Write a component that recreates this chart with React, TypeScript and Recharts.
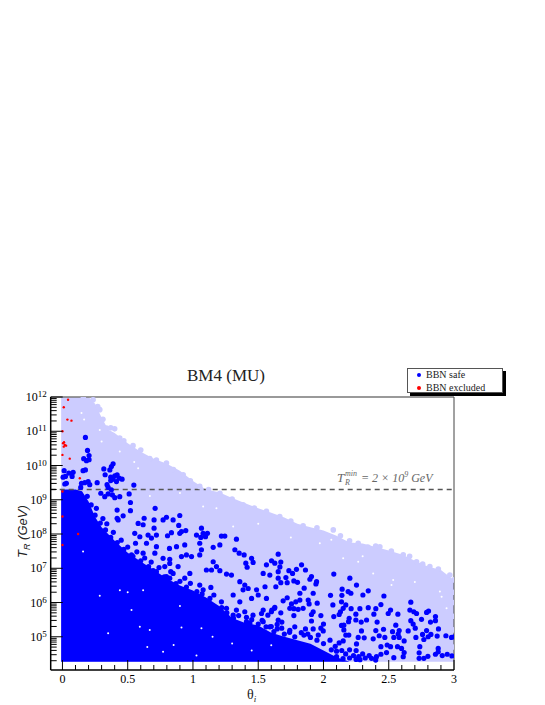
import { ComposedChart, Area, Scatter, XAxis, YAxis, ReferenceLine } from 'recharts'

// log10(T_R) is plotted, decade labels are drawn as 10^n
const envelopeTheta = [-0.01, 0.05, 0.1, 0.15, 0.2, 0.25, 0.3, 0.35, 0.4, 0.5, 0.6, 0.7, 0.8, 0.9, 1, 1.1, 1.2, 1.3, 1.4, 1.5, 1.6, 1.7, 1.8, 1.9, 2, 2.1, 2.2, 2.3, 2.4, 2.5, 2.6, 2.7, 2.8, 2.9, 3]
const lightTop = [12, 12, 12, 12, 12, 11.8, 11.4, 11.05, 10.95, 10.65, 10.4, 10.2, 10.05, 9.85, 9.55, 9.3, 9.22, 9.05, 8.9, 8.75, 8.62, 8.48, 8.3, 8.2, 8.1, 7.95, 7.75, 7.72, 7.62, 7.52, 7.4, 7.22, 7.05, 6.95, 6.65]
const darkTop = [9.3, 9.3, 9.3, 9.25, 8.95, 8.5, 8.2, 8.0, 7.8, 7.45, 7.2, 6.95, 6.7, 6.5, 6.35, 6.15, 5.9, 5.55, 5.4, 5.33, 5.12, 5.0, 4.9, 4.8, 4.6, 4.4, 4.27, 4.27, 4.27, 4.27, 4.27, 4.27, 4.27, 4.27, 4.27]
const floorLogT = 4.27

const lightEdge: number[][] = [
  [0.16, 12], [0.235, 11.92], [0.27, 11.72], [0.286, 11.63], [0.31, 11.35], [0.337, 11.09], [0.37, 11.1], [0.4, 11.07], [0.439, 10.8], [0.47, 10.72], [0.541, 10.58], [0.6, 10.45], [0.669, 10.2], [0.72, 10.16], [0.797, 10.07], [0.85, 9.88], [0.925, 9.73], [0.98, 9.55], [1.052, 9.39], [1.12, 9.3], [1.206, 9.19], [1.3, 9.02], [1.384, 8.85], [1.47, 8.76], [1.563, 8.66], [1.665, 8.51], [1.75, 8.38], [1.844, 8.24], [1.95, 8.18], [2.075, 8.12], [2.13, 7.95], [2.2, 7.8], [2.266, 7.73], [2.34, 7.62], [2.4, 7.65], [2.432, 7.63], [2.52, 7.5], [2.611, 7.39], [2.66, 7.35], [2.713, 7.19], [2.76, 7.12], [2.815, 7.05], [2.88, 6.98], [2.968, 6.8], [3, 6.66],
  [3, 6.3], [3, 6.0], [3, 5.6], [3, 5.2], [3, 4.7],
]

// background showing through the clouds
const gapPoints: number[][] = [
  [0.286, 11.04], [0.166, 11.34], [0.146, 11.53], [0.58, 9.92], [0.439, 10.41], [0.67, 9.11], [1.078, 8.8], [1.18, 8.75], [1.308, 8.22], [1.972, 7.73], [2.06, 7.83], [2.151, 7.29], [2.266, 7.19], [2.381, 6.85], [2.534, 6.66], [2.521, 6.51], [2.892, 6.32], [2.943, 5.83], [2.905, 6.17], [2.7, 6.6], [2.3, 7.35], [1.75, 7.9], [1.5, 8.3], [0.9, 9.2], [0.55, 10.1], [0.3, 10.7],
  [0.44, 6.36], [0.5, 6.3], [0.286, 6.2], [0.529, 5.78], [0.593, 5.29], [0.669, 5.2], [0.912, 5.27], [1.065, 5.25], [0.852, 4.76], [0.771, 4.56], [1.027, 4.45], [0.618, 6.36], [0.158, 7.49], [0.9, 5.9], [1.15, 5.0], [1.3, 4.8], [0.35, 5.1], [0.65, 4.7], [1.45, 4.6], [1.6, 4.75],
]

const safePoints: number[][] = [
  // upper cloud
  [0.176, 10.82], [0.192, 10.44], [0.204, 10.29], [0.163, 10.2], [0.184, 10.14], [0.204, 10.17], [0.388, 10.05], [0.375, 9.97], [0.317, 9.9], [0.363, 9.87], [0.158, 9.85], [0.176, 9.87], [0.013, 9.85], [0.049, 9.78], [0.082, 9.8], [0.005, 9.66], [0.023, 9.68], [0.074, 9.68], [0.018, 9.46], [0.03, 9.48],
  [0.327, 9.73], [0.37, 9.66], [0.401, 9.7], [0.419, 9.73], [0.434, 9.63], [0.457, 9.6], [0.388, 9.6], [0.414, 9.53], [0.37, 9.56], [0.266, 9.5], [0.197, 9.53], [0.171, 9.5], [0.146, 9.48], [0.209, 9.44], [0.342, 9.44], [0.35, 9.36], [0.375, 9.29], [0.547, 9.43], [0.511, 9.17], [0.294, 9.19], [0.35, 9.17], [0.324, 9.09], [0.383, 9.14], [0.401, 9.06], [0.439, 9.09], [0.521, 8.92], [0.521, 8.68], [0.419, 8.7], [0.419, 8.46], [0.465, 8.53], [0.427, 8.41], [0.71, 8.75], [0.626, 8.46], [0.58, 8.31], [0.618, 8.27], [0.702, 8.41], [0.702, 8.17], [0.771, 8.41], [0.797, 8.49], [0.848, 8.41], [0.899, 8.54], [0.891, 8.25], [0.912, 8.07], [0.945, 8.1], [0.835, 8.04], [0.805, 7.95], [0.554, 8.02], [0.593, 7.92], [0.656, 7.97], [0.72, 7.97], [1.065, 8.17], [1.078, 8.02], [1.111, 8.02], [1.027, 7.97], [1.06, 7.9], [1.096, 7.92], [1.218, 7.94], [1.244, 7.94], [1.333, 7.85],
  // middle cloud, left half
  [0.822, 7.26], [0.822, 7.14], [0.874, 7.63], [0.82, 7.58], [0.937, 7.68], [0.912, 7.34], [0.95, 7.39], [0.989, 7.34], [1.052, 7.73], [1.065, 7.54], [1.052, 7.39], [1.155, 7.61], [1.206, 7.68], [1.321, 7.54], [1.354, 7.44], [1.392, 7.39], [1.449, 7.29], [1.461, 7.17], [1.405, 7.15], [1.415, 7.03], [1.563, 7.1], [1.627, 7.15], [1.155, 7.19], [1.18, 7.05], [1.206, 6.93], [1.142, 6.95], [1.103, 6.95], [0.976, 6.85], [0.937, 6.71], [0.886, 7.05], [0.848, 6.85], [0.822, 6.71], [0.771, 6.61], [1.257, 6.83], [1.295, 6.8], [1.359, 6.61], [1.397, 6.51], [1.384, 6.37], [1.423, 6.41], [1.487, 6.37], [1.5, 6.22], [1.552, 6.46], [1.563, 6.12], [1.635, 6.46], [1.653, 6.71], [1.538, 6.85], [1.589, 6.8], [1.653, 6.9], [1.052, 6.51], [1.078, 6.37], [1.137, 6.44], [1.218, 6.02], [1.308, 6.22], [1.359, 6.02], [1.449, 6.12], [1.257, 5.83], [1.333, 5.78], [1.397, 5.73], [1.538, 5.78], [1.525, 5.68], [1.625, 5.83], [1.601, 5.73], [1.574, 5.63], [1.46, 5.63], [1.41, 5.57], [1.308, 5.63], [1.653, 5.49], [1.538, 5.44], [1.436, 5.39], [1.589, 5.29], [0.899, 8.02], [0.72, 7.63], [0.682, 7.88], [0.618, 7.44], [0.529, 7.39], [0.644, 7.73], [0.708, 7.44], [0.771, 7.29], [0.56, 7.73], [0.784, 7.05], [0.695, 6.93], [0.797, 6.76],
  // middle cloud, right half
  [1.653, 7.41], [1.602, 7.22], [1.673, 7.18], [1.666, 7.04], [1.735, 6.93], [1.793, 6.97], [1.832, 7.1], [1.862, 6.95], [1.763, 6.85], [1.712, 6.73], [1.673, 6.58], [1.722, 6.58], [1.773, 6.63], [1.801, 6.59], [1.896, 6.68], [1.908, 6.76], [1.947, 6.61], [1.942, 6.54], [2.079, 6.83], [2.202, 6.71], [2.253, 6.51], [2.143, 6.39], [2.189, 6.32], [2.21, 6.27], [2.343, 6.34], [2.302, 6.22], [2.054, 6.21], [2.141, 6.21], [2.463, 6.19], [2.669, 6.01], [2.44, 5.94], [2.343, 5.85], [2.279, 5.82], [2.212, 5.82], [2.401, 5.82], [2.072, 5.93], [2.138, 6.02], [2.171, 5.93], [2.151, 5.83], [2.13, 5.73], [2.079, 5.59], [2.12, 5.65], [2.248, 5.66], [2.386, 5.66], [2.496, 5.68], [2.514, 5.78], [2.57, 5.66], [2.662, 5.78], [2.692, 5.73], [2.713, 5.68], [2.79, 5.71], [2.805, 5.75], [2.858, 5.59], [2.858, 5.47], [2.751, 5.51], [2.82, 5.43], [2.669, 5.47], [2.687, 5.37], [2.703, 5.25], [2.881, 5.23], [2.79, 5.18], [2.759, 5.07], [2.769, 4.92], [2.823, 5.07], [2.802, 5.0], [2.871, 5.02], [2.938, 5.03], [2.981, 4.98], [3, 5.0], [2.708, 4.98], [2.618, 4.88], [2.649, 5.17], [2.554, 5.34], [2.58, 5.18], [2.529, 5.15], [2.572, 5.08], [2.539, 4.98], [2.58, 4.98], [2.46, 5.22], [2.401, 5.18], [2.47, 4.98], [2.427, 5.03], [2.381, 4.94], [2.291, 5.17], [2.266, 4.98], [2.312, 4.97], [2.411, 5.43], [2.33, 5.49], [2.289, 5.43], [2.248, 5.49], [2.197, 5.54], [2.192, 5.44], [2.156, 5.34], [2.138, 5.33], [2.156, 5.2], [2.171, 5.05], [2.194, 5.05], [2.151, 4.88],
  [1.921, 6.27], [1.852, 6.42], [1.819, 6.27], [1.722, 6.14], [1.691, 6.05], [1.819, 6.07], [1.788, 6.02], [1.883, 6.07], [1.89, 5.96], [1.952, 5.98], [1.755, 5.96], [1.742, 5.83], [1.773, 5.82], [1.806, 5.8], [1.844, 5.83], [1.921, 5.73], [1.908, 5.65], [1.98, 5.62], [1.773, 5.62], [1.673, 5.7], [1.627, 5.86], [1.604, 5.78], [1.908, 5.46], [2.0, 5.37], [1.681, 5.43], [1.645, 5.36], [1.645, 5.23], [1.78, 5.29], [1.862, 5.23], [1.921, 5.23], [1.742, 5.19], [1.998, 5.17], [1.98, 5.25],
  // lower strip
  [2.253, 4.79], [2.44, 4.71], [2.488, 4.76], [2.514, 4.71], [2.567, 4.71], [2.598, 4.66], [2.738, 4.71], [2.618, 4.54], [2.733, 4.53], [2.879, 4.66], [2.879, 4.56], [2.483, 4.54], [2.44, 4.49], [2.539, 4.39], [2.611, 4.42], [2.733, 4.37], [2.769, 4.37], [2.8, 4.43], [2.858, 4.49], [2.91, 4.45], [2.948, 4.49], [2.984, 4.44], [2.406, 4.42], [2.368, 4.37], [2.4, 4.32],
  [2.05, 4.9], [2.09, 4.72], [2.12, 4.82], [2.06, 4.62], [2.1, 4.58], [2.14, 4.6], [2.17, 4.5], [2.2, 4.62], [2.23, 4.45], [2.25, 4.6], [2.27, 4.42], [2.3, 4.5], [2.32, 4.38], [2.28, 4.33], [2.2, 4.38], [2.15, 4.36], [2.1, 4.42], [2.25, 4.34], [2.35, 4.45], [1.9, 4.98], [1.95, 4.9], [2.0, 4.8], [1.85, 5.05], [1.7, 5.08], [1.78, 5.0], [1.62, 5.15],
  // edge of the dense block
  [0.14, 9.36], [0.19, 9.1], [0.22, 8.85], [0.25, 8.55], [0.29, 8.32], [0.33, 8.12], [0.37, 7.9], [0.42, 7.75], [0.47, 7.55], [0.54, 7.35], [0.6, 7.22], [0.66, 7.05], [0.72, 6.9], [0.78, 6.75], [0.87, 6.55], [0.95, 6.45], [1.03, 6.32], [1.13, 6.12], [1.22, 5.85], [1.31, 5.54], [1.41, 5.44], [1.5, 5.37], [1.56, 5.29],
  [0.26, 8.75], [0.31, 8.45], [0.34, 8.3], [0.39, 8.05], [0.45, 7.82], [0.5, 7.62], [0.57, 7.48], [0.63, 7.3], [0.68, 7.18], [0.74, 7.02], [0.83, 6.9], [0.9, 6.62], [0.98, 6.56], [1.07, 6.25], [1.16, 6.22], [1.26, 5.7], [1.35, 5.62], [1.45, 5.5], [1.53, 5.48], [1.6, 5.3], [1.68, 5.25], [1.74, 5.13], [1.83, 5.12], [1.88, 5.08], [1.96, 5.05],
]

const excludedPoints: number[][] = [
  [0.043, 11.92], [0.01, 11.7], [0.038, 11.34], [0.069, 11.31], [0, 11.0], [0.005, 10.65], [0.018, 10.6], [0.01, 10.55], [0.012, 10.68], [0.028, 10.58], [0, 10.31], [0.056, 10.2], [0.133, 9.63], [0, 9.24], [0, 8.51], [0.12, 8.0], [0, 7.68],
]

const xTicks = [0, 0.1, 0.2, 0.3, 0.4, 0.5, 0.6, 0.7, 0.8, 0.9, 1, 1.1, 1.2, 1.3, 1.4, 1.5, 1.6, 1.7, 1.8, 1.9, 2, 2.1, 2.2, 2.3, 2.4, 2.5, 2.6, 2.7, 2.8, 2.9, 3]
const xLabels = [0, 0.5, 1, 1.5, 2, 2.5, 3]
const decades = [4, 5, 6, 7, 8, 9, 10, 11]
const minorSteps = [0.301, 0.477, 0.602, 0.699, 0.778, 0.845, 0.903, 0.954]
const yTicks = [...decades.filter((d) => d > 4), 12, ...decades.flatMap((d) => minorSteps.map((s) => d + s))]

const legendLabels = ['BBN safe', 'BBN excluded']
const legendColors = ['#0000ff', '#ff0000']
const SERIF = '"Liberation Serif", serif'

const tableData = envelopeTheta.map((theta, i) => ({
  theta,
  light: [floorLogT, lightTop[i]],
  dark: [floorLogT, darkTop[i]],
}))
const toRows = (list: number[][]) => list.map(([theta, logT]) => ({ theta, logT }))

const dot = (fill: string, r: number) => (props: any) => <circle cx={props.cx} cy={props.cy} r={r} fill={fill} />

function XTick({ x, y, payload }: any) {
  const major = xLabels.includes(payload.value)
  return (
    <g>
      <line x1={x} x2={x} y1={y} y2={y - (major ? 10 : 5)} stroke="#000" />
      {major && (
        <text x={x} y={y + 13} textAnchor="middle" fontFamily={SERIF} fontSize={12} fill="#000">
          {payload.value}
        </text>
      )}
    </g>
  )
}

function YTick({ x, y, payload }: any) {
  const major = Number.isInteger(payload.value)
  return (
    <g>
      <line x1={x} x2={x + (major ? 12 : 6)} y1={y} y2={y} stroke="#000" />
      {major && (
        <text x={x - 4} y={y + 4} textAnchor="end" fontFamily={SERIF} fontSize={12} fill="#000">
          10<tspan dy={-4} fontSize={9}>{payload.value}</tspan>
        </text>
      )}
    </g>
  )
}

function LegendBox() {
  return (
    <div style={{ position: 'absolute', left: 407, top: 368, width: 94, height: 23, background: '#fff', border: '1px solid #555', boxShadow: '3px 3px 0 #000', fontFamily: SERIF, fontSize: 10, color: '#222' }}>
      {legendLabels.map((label, i) => (
        <div key={label} style={{ position: 'absolute', left: 18, top: i * 12.5, lineHeight: '12px', whiteSpace: 'nowrap' }}>
          <span style={{ position: 'absolute', left: -9, top: 4, width: 4, height: 4, borderRadius: 2, background: legendColors[i] }} />
          {label}
        </div>
      ))}
    </div>
  )
}

export default function App() {
  return (
    <div style={{ position: 'absolute', left: 0, top: 0, width: 545, height: 705, background: '#fff' }}>
      <ComposedChart width={545} height={705} data={tableData} margin={{ top: 397, right: 91, bottom: 0, left: 0 }}>
        <XAxis
          dataKey="theta"
          type="number"
          domain={[-0.09, 3]}
          ticks={xTicks}
          allowDataOverflow
          interval={0}
          height={35}
          tickSize={0}
          tickMargin={0}
          tick={<XTick />}
          axisLine={{ stroke: '#000', strokeWidth: 1.5 }}
        />
        <YAxis
          type="number"
          domain={[4.03, 12]}
          ticks={yTicks}
          allowDataOverflow
          interval={0}
          width={50.7}
          tickSize={0}
          tickMargin={0}
          tick={<YTick />}
          axisLine={{ stroke: '#000', strokeWidth: 1.5 }}
        />
        <Area dataKey="light" type="linear" stroke="none" fill="#ccccff" fillOpacity={1} isAnimationActive={false} dot={false} activeDot={false} />
        <Scatter data={toRows(lightEdge)} dataKey="logT" shape={dot('#ccccff', 2.8)} isAnimationActive={false} />
        <Scatter data={toRows(excludedPoints)} dataKey="logT" shape={dot('#ff0000', 1.2)} isAnimationActive={false} />
        <Area dataKey="dark" type="linear" stroke="none" fill="#0000ff" fillOpacity={1} isAnimationActive={false} dot={false} activeDot={false} />
        <Scatter data={toRows(gapPoints)} dataKey="logT" shape={dot('#ffffff', 1)} isAnimationActive={false} />
        <Scatter data={toRows(safePoints)} dataKey="logT" shape={dot('#0000ff', 2.6)} isAnimationActive={false} />
        <ReferenceLine y={9.3} stroke="#555" strokeWidth={1.4} strokeDasharray="5 4" />
        <ReferenceLine y={12} stroke="#777" strokeWidth={1.5} />
        <ReferenceLine x={3} stroke="#444" strokeWidth={1} />
        <text x={226} y={381} textAnchor="middle" fontFamily={SERIF} fontSize={17} fill="#222">BM4 (MU)</text>
        <text x={247} y={699} fontFamily={SERIF} fontSize={14} fill="#222">θ<tspan dy={3} fontSize={9} fontStyle="italic">i</tspan></text>
        <text transform="translate(27,558) rotate(-90)" fontFamily='"Liberation Sans", sans-serif' fontStyle="italic" fontSize={13} fill="#222">
          T<tspan dy={3} fontSize={9}>R</tspan><tspan dy={-3}> (GeV)</tspan>
        </text>
        <g fontFamily={SERIF} fontStyle="italic" fill="#666">
          <text x={337} y={482} fontSize={13}>T</text>
          <text x={345} y={476} fontSize={8}>min</text>
          <text x={345} y={485} fontSize={8}>R</text>
          <text x={361} y={482} fontSize={12}>= 2 × 10<tspan dy={-5} fontSize={8}>9</tspan><tspan dy={5}> GeV</tspan></text>
        </g>
      </ComposedChart>
      <LegendBox />
    </div>
  )
}
